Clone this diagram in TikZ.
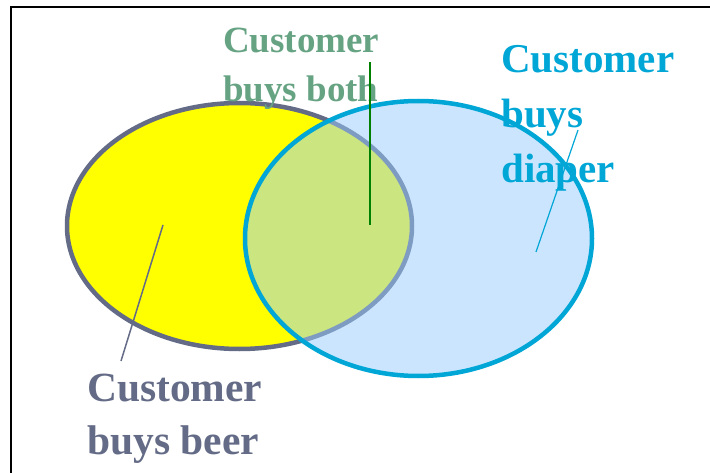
\documentclass[tikz,border=0pt]{standalone}
\usepackage{fontspec}
\setmainfont{Liberation Serif}
\usetikzlibrary{shapes.geometric}
\definecolor{beerc}{RGB}{100,107,134}
\definecolor{beerfill}{RGB}{255,255,0}
\definecolor{diaperc}{RGB}{0,166,214}
\definecolor{diaperfill}{RGB}{153,204,255}
\definecolor{bothc}{RGB}{102,163,131}
\definecolor{bothline}{RGB}{0,128,0}
\tikzset{
  set/.style={ellipse, inner sep=0pt, line width=4.5pt},
  lbl/.style={anchor=base west, inner sep=0pt, align=left, font=\bfseries},
  frame/.style={line width=2.2pt, black}
}
\begin{document}
\begin{tikzpicture}[x=1pt,y=-1pt]
\useasboundingbox (0,0) rectangle (710,473);
\draw[frame] (11,480) -- (11,7) -- (720,7);
\node[set, draw=beerc, fill=beerfill, minimum width=345pt, minimum height=246pt] (beer) at (239.5,226) {};
\node[set, draw=diaperc, fill=diaperfill, fill opacity=0.5, minimum width=347pt, minimum height=275pt] (diaper) at (418.5,238.5) {};
\node[lbl, text=bothc, font=\bfseries\fontsize{37}{49}\selectfont] (tboth) at (223,102) {Customer\\buys both};
\node[lbl, text=diaperc, font=\bfseries\fontsize{41}{55}\selectfont] (tdiaper) at (501,183) {Customer\\buys\\diaper};
\node[lbl, text=beerc, font=\bfseries\fontsize{41.5}{53}\selectfont] (tbeer) at (87,454) {Customer\\buys beer};
\coordinate (bothA) at (370,62);
\coordinate (bothB) at (370,225);
\coordinate (diapA) at (578,130);
\coordinate (diapB) at (536,252);
\coordinate (beerA) at (163,225);
\coordinate (beerB) at (121,361);
\draw[bothline, line width=1.5pt] (bothA) -- (bothB);
\draw[diaperc, line width=1.2pt] (diapA) -- (diapB);
\draw[beerc, line width=1.5pt] (beerA) -- (beerB);
\end{tikzpicture}
\end{document}
